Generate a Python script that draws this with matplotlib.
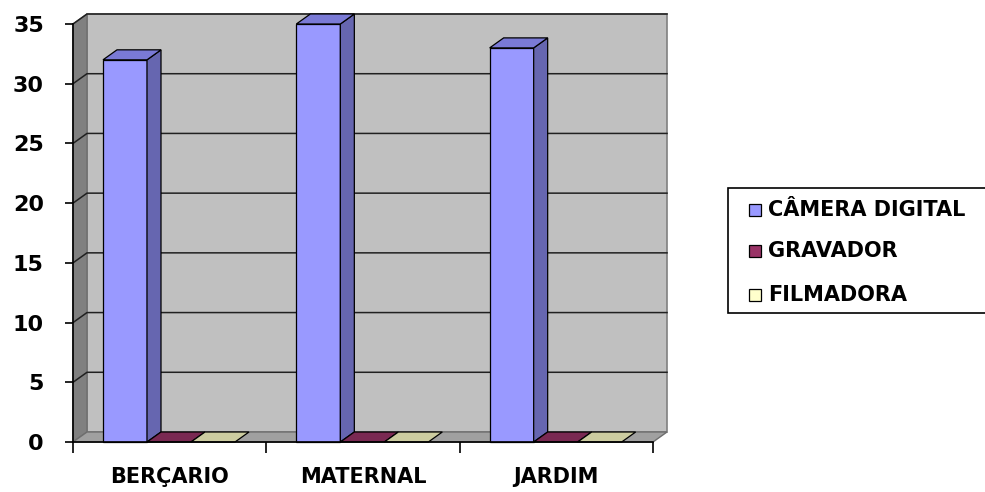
import matplotlib
matplotlib.use("Agg")
import matplotlib.pyplot as plt
from matplotlib.patches import Polygon, Rectangle

categories = ["BERÇARIO", "MATERNAL", "JARDIM"]
series = ["CÂMERA DIGITAL", "GRAVADOR", "FILMADORA"]
camera = [32, 35, 33]
gravador = [0, 0, 0]
filmadora = [0, 0, 0]
values = [camera, gravador, filmadora]
yticks = [0, 5, 10, 15, 20, 25, 30, 35]

# front / side / top colours per series
face_cols = ["#9999FF", "#993366", "#FFFFCC"]
side_cols = ["#6666B0", "#6B2347", "#B3B38F"]
top_cols = ["#7A7AD6", "#7A2952", "#CCCCA0"]

plt.rcParams["font.family"] = ["DejaVu Sans"]
plt.rcParams["font.weight"] = "bold"

W, H = 985, 492
fig = plt.figure(figsize=(W / 100, H / 100), dpi=100)
ax = fig.add_axes([73 / W, 50 / H, 580 / W, 418 / H])
ax.set_xlim(0, 3)
ax.set_ylim(0, 35)
ax.patch.set_visible(False)

# depth offset of the pseudo-3d box, in data units
dx = 14 / (580 / 3)
dy = 10 / (418 / 35)
ymax = 35

def poly(pts, fc, ec="none", lw=0.8, z=1):
    ax.add_patch(Polygon(pts, closed=True, facecolor=fc, edgecolor=ec,
                         linewidth=lw, zorder=z, clip_on=False))

# back wall, left wall and floor
poly([(dx, dy), (3 + dx, dy), (3 + dx, ymax + dy), (dx, ymax + dy)],
     "#C0C0C0", "#808080", 1.2, z=0.5)
poly([(0, 0), (dx, dy), (dx, ymax + dy), (0, ymax)], "#808080", "#6E6E6E", 1.0, z=0.6)
poly([(0, 0), (3, 0), (3 + dx, dy), (dx, dy)], "#A0A0A0", "#6E6E6E", 1.0, z=0.6)

# gridlines on back and side wall
for t in yticks[1:]:
    ax.plot([0, dx, 3 + dx], [t, t + dy, t + dy], color="#202020",
            linewidth=1.1, zorder=0.8, clip_on=False)

# bars
bw = 44 / (580 / 3)
gap = 30 / (580 / 3)
for i in range(len(categories)):
    for s in range(len(series)):
        v = values[s][i]
        x0 = i + gap + s * bw
        x1 = x0 + bw
        z = 2 + i * 3 + s
        if v > 0:
            poly([(x0, 0), (x1, 0), (x1, v), (x0, v)], face_cols[s], "black", 0.9, z)
            poly([(x1, 0), (x1 + dx, dy), (x1 + dx, v + dy), (x1, v)],
                 side_cols[s], "black", 0.9, z)
        poly([(x0, v), (x1, v), (x1 + dx, v + dy), (x0 + dx, v + dy)],
             top_cols[s], "black", 0.9, z)

# axes styling
for k in ["top", "right"]:
    ax.spines[k].set_visible(False)
for k in ["left", "bottom"]:
    ax.spines[k].set_color("black")
    ax.spines[k].set_linewidth(1.2)
    ax.spines[k].set_zorder(20)
ax.set_yticks(yticks)
ax.set_yticklabels([str(t) for t in yticks], fontsize=16, fontweight="bold")
ax.tick_params(axis="y", direction="out", length=6, width=1.2, pad=15)
ax.set_xticks([0, 1, 2, 3])
ax.set_xticklabels([])
ax.tick_params(axis="x", which="major", direction="out", length=8, width=1.2)
ax.set_xticks([0.5, 1.5, 2.5], minor=True)
ax.set_xticklabels(categories, minor=True, fontsize=15, fontweight="bold")
ax.tick_params(axis="x", which="minor", length=0, pad=18)

# legend box
fig.patches.append(Rectangle((728 / W, 1 - 313 / H), 270 / W, 125 / H,
                             transform=fig.transFigure, facecolor="white",
                             edgecolor="black", linewidth=1.2))
rows = [210, 251, 295]
for s, name in enumerate(series):
    yc = 1 - rows[s] / H
    fig.patches.append(Rectangle((749 / W, yc - 6 / H), 12 / W, 12 / H,
                                 transform=fig.transFigure, facecolor=face_cols[s],
                                 edgecolor="black", linewidth=0.9))
    fig.text(768 / W, yc, name, fontsize=15, fontweight="bold", va="center", ha="left")

fig.savefig("out.png", dpi=100)
